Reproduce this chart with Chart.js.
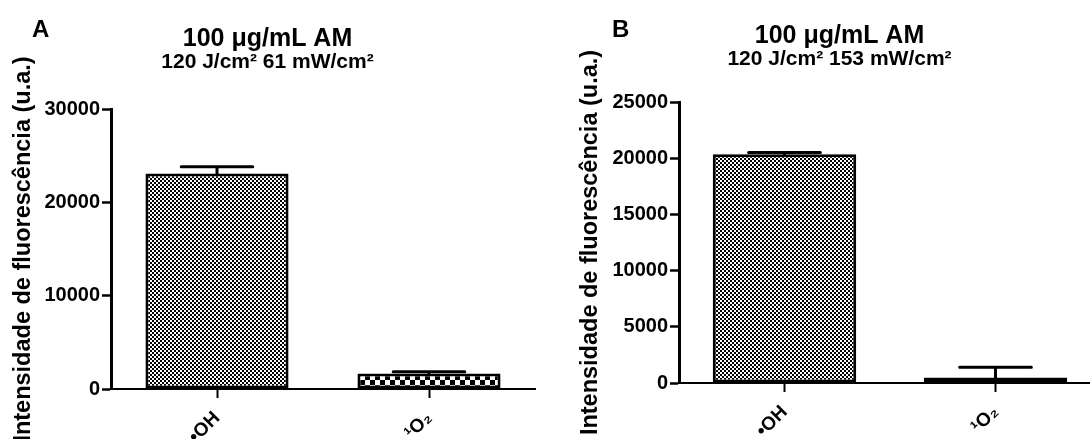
<!DOCTYPE html>
<html>
<head>
<meta charset="utf-8">
<script src="https://cdn.jsdelivr.net/npm/chart.js@4.4.1/dist/chart.umd.min.js"></script>
<style>
  html, body { margin:0; padding:0; background:#fff; overflow:hidden; }
  #wrap { position:relative; width:1090px; height:439px; overflow:hidden; background:#fff; }
  canvas { position:absolute; top:0; }
  .panel { position:absolute; font:bold 24px "Liberation Sans", Arial, sans-serif; line-height:24px; color:#000; }
</style>
</head>
<body>
<div id="wrap">
  <canvas id="chartA" width="554" height="439" style="left:0"></canvas>
  <canvas id="chartB" width="530" height="439" style="left:578px"></canvas>
  <div class="panel" style="left:32px;top:17px">A</div>
  <div class="panel" style="left:612px;top:17px">B</div>
</div>
<script>
const categories = ["•OH", "¹O₂"];

// panel A: 120 J/cm² 61 mW/cm²
const meanA = [23100, 1650];
const errA  = [700, 200];
const yMaxA = 30000, yStepA = 10000;

// panel B: 120 J/cm² 153 mW/cm²
const meanB = [20350, 500];
const errB  = [150, 900];
const yMaxB = 25000, yStepB = 5000;

const TITLE = "100 μg/mL AM";
const Y_TITLE = "Intensidade de fluorescência (u.a.)";
const FONT = "'Liberation Sans', Arial, sans-serif";

Chart.defaults.font.family = FONT;
Chart.defaults.color = "#000";

function pattern(cell) {
  const c = document.createElement("canvas");
  c.width = c.height = cell * 2;
  const g = c.getContext("2d");
  g.fillStyle = "#fff"; g.fillRect(0, 0, cell * 2, cell * 2);
  g.fillStyle = "#000";
  g.fillRect(0, 0, cell, cell);
  g.fillRect(cell, cell, cell, cell);
  return g.createPattern(c, "repeat");
}

const errorBars = {
  id: "errorBars",
  afterDatasetsDraw(chart) {
    const { ctx } = chart;
    const y = chart.scales.y;
    const ds = chart.data.datasets[0];
    const meta = chart.getDatasetMeta(0);
    ctx.save();
    ctx.strokeStyle = "#000";
    ctx.lineWidth = 3;
    ctx.lineCap = "round";
    meta.data.forEach((bar, i) => {
      const top = y.getPixelForValue(ds.data[i] + ds.errors[i]);
      const half = bar.width * 0.25;
      ctx.beginPath();
      ctx.moveTo(bar.x, bar.y); ctx.lineTo(bar.x, top);
      ctx.moveTo(bar.x - half, top); ctx.lineTo(bar.x + half, top);
      ctx.stroke();
    });
    ctx.restore();
  }
};

function makePanel(id, p) {
  return new Chart(document.getElementById(id), {
    type: "bar",
    data: {
      labels: categories,
      datasets: [{
        data: p.mean,
        errors: p.err,
        backgroundColor: p.fills,
        borderColor: "#000",
        borderWidth: 3,
        borderSkipped: false,
        barPercentage: p.barPct,
        categoryPercentage: 1
      }]
    },
    options: {
      responsive: false,
      animation: false,
      events: [],
      layout: { padding: { left: 0, right: p.padRight, top: 0, bottom: 0 } },
      plugins: {
        legend: { display: false },
        tooltip: { enabled: false },
        title: { display: true, text: TITLE, color: "#000",
          font: { size: 25, weight: "bold", lineHeight: 1 },
          padding: { top: p.titleTop, bottom: 0 } },
        subtitle: { display: true, text: p.subtitle, color: "#000",
          font: { size: 21, weight: "bold", lineHeight: 1 },
          padding: { top: 0, bottom: p.subBottom } }
      },
      scales: {
        x: {
          offset: true,
          afterFit: s => { s.height = p.xHeight; },
          grid: { display: true, offset: false, drawOnChartArea: false, drawTicks: true,
                  tickLength: 9, tickWidth: 2, tickColor: "#000" },
          border: { display: true, color: "#000", width: 2 },
          ticks: { color: "#000", maxRotation: 45, minRotation: 45, padding: 9,
                   font: { size: 19, weight: "bold" } }
        },
        y: {
          min: 0, max: p.yMax,
          afterFit: s => { s.width = p.yWidth; },
          grid: { drawOnChartArea: false, drawTicks: true, tickLength: 9, tickWidth: 2.5, tickColor: "#000" },
          border: { display: true, color: "#000", width: 3 },
          ticks: { stepSize: p.yStep, color: "#000", padding: 2,
                   font: { size: 20, weight: "bold" }, callback: v => String(v) },
          title: { display: true, text: Y_TITLE, color: "#000",
                   font: { size: 23.5, weight: "bold", lineHeight: 1 },
                   padding: { top: p.yTitlePad, bottom: 0 } }
        }
      }
    },
    plugins: [errorBars]
  });
}

const fine = pattern(2), coarse = pattern(5);

makePanel("chartA", {
  mean: meanA, err: errA, yMax: yMaxA, yStep: yStepA,
  subtitle: "120 J/cm² 61 mW/cm²",
  fills: [fine, coarse], barPct: 0.675,
  padRight: 19, yWidth: 111, xHeight: 50, yTitlePad: 12,
  titleTop: 26.5, subBottom: 36.5
});

makePanel("chartB", {
  mean: meanB, err: errB, yMax: yMaxB, yStep: yStepB,
  subtitle: "120 J/cm² 153 mW/cm²",
  fills: [fine, "#000"], barPct: 0.68,
  padRight: 7, yWidth: 101, xHeight: 56, yTitlePad: 0.5,
  titleTop: 23.5, subBottom: 32.5
});
</script>
</body>
</html>
